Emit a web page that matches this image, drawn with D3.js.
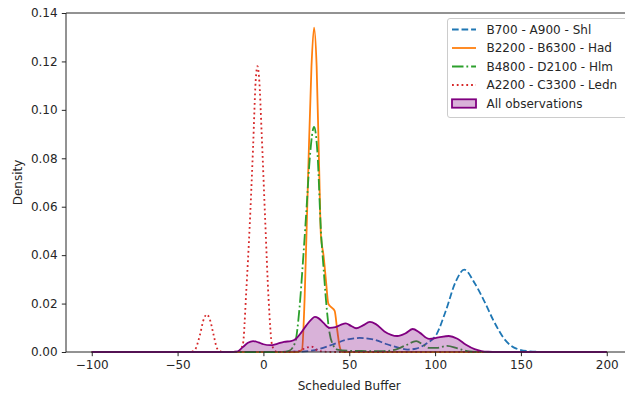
<!DOCTYPE html>
<html>
<head>
<meta charset="utf-8">
<script src="https://cdn.jsdelivr.net/npm/d3@7"></script>
<style>
  html, body { margin: 0; padding: 0; background: #fff; }
  svg { display: block; font-family: "DejaVu Sans", sans-serif; }
</style>
</head>
<body>
<svg id="chart" width="625" height="394"></svg>
<script>
// ---- data ----
const seriesNames = ["B700 - A900 - Shl", "B2200 - B6300 - Had", "B4800 - D2100 - Hlm", "A2200 - C3300 - Ledn", "All observations"];

const shlX = [-100, 20, 30, 40, 48, 56, 64, 72, 79, 84, 89, 95, 101, 106, 112, 117, 123, 129, 134, 141, 147, 155, 166, 200];
const shlY = [0, 0.0001, 0.0008, 0.0030, 0.0050, 0.0058, 0.0052, 0.0032, 0.0017, 0.0010, 0.0014, 0.0035, 0.0075, 0.0165, 0.0290, 0.0340, 0.0285, 0.0205, 0.0130, 0.0048, 0.0015, 0.0003, 0, 0];

const hadX = [-100, 20, 22.5, 24, 26, 28, 29.5, 31, 32.5, 33.5, 35, 36.5, 37.8, 39.5, 41.5, 43, 44.5, 46, 200];
const hadY = [0, 0, 0.001, 0.022, 0.072, 0.118, 0.134, 0.118, 0.075, 0.048, 0.040, 0.029, 0.020, 0.0185, 0.017, 0.009, 0.002, 0, 0];

const hlmX = [-100, 10, 15, 18.5, 21, 23, 25, 27, 29.5, 31.5, 33.5, 35, 36.5, 38.5, 40.5, 43, 50, 60, 70, 77, 83, 89, 93, 96.5, 101, 107, 113, 120, 131, 200];
const hlmY = [0, 0, 0.0005, 0.004, 0.018, 0.037, 0.058, 0.080, 0.093, 0.082, 0.050, 0.035, 0.021, 0.008, 0.003, 0.001, 0.0005, 0.0004, 0.0004, 0.001, 0.0028, 0.0045, 0.003, 0.0017, 0.0017, 0.0025, 0.0015, 0.0002, 0, 0];

const ledX = [-100, -45, -42, -40, -37, -35, -33, -31, -29, -27, -25, -20, -15, -12, -10, -8, -6, -4.5, -3.5, -2.5, -1, 1, 3, 5, 7, 12, 20, 25, 28, 32, 40, 200];
const ledY = [0, 0, 0.0001, 0.0008, 0.007, 0.013, 0.0155, 0.013, 0.007, 0.0015, 0.0002, 0, 0.0002, 0.003, 0.025, 0.052, 0.085, 0.112, 0.118, 0.113, 0.090, 0.055, 0.022, 0.003, 0.0003, 0, 0.0002, 0.0018, 0.0022, 0.0005, 0, 0];

const allX = [-100, -20, -15, -12, -9, -6, -3, 0, 4, 8, 12, 16, 19, 22, 25, 28, 30, 32, 35, 38.5, 42, 45, 48, 51, 54, 58, 62, 65.5, 70.5, 78, 83, 87, 91, 96.5, 102, 108, 113, 118, 123, 127, 131, 136, 141, 200];
const allY = [0, 0, 0.0003, 0.002, 0.0038, 0.0045, 0.0040, 0.0032, 0.0028, 0.0034, 0.0042, 0.0045, 0.0055, 0.0080, 0.0110, 0.0135, 0.0145, 0.0140, 0.0120, 0.0100, 0.0103, 0.0112, 0.0118, 0.0108, 0.0098, 0.0110, 0.0124, 0.0115, 0.0085, 0.0066, 0.0078, 0.0095, 0.0080, 0.0054, 0.0060, 0.0066, 0.0055, 0.0030, 0.0012, 0.0004, 0.0001, 0, 0, 0];

const xTicks = [-100, -50, 0, 50, 100, 150, 200];
const yTicks = [0, 0.02, 0.04, 0.06, 0.08, 0.10, 0.12, 0.14];

// ---- layout ----
const svg = d3.select("#chart");
const L = 66, R = 632.5, T = 13, B = 352;
const x = d3.scaleLinear().domain([-115, 215]).range([L, R]);
const y = d3.scaleLinear().domain([0, 0.14]).range([B, T]);
const lw = 1.8;
const fs = 12;
const txt = "#262626";

svg.append("rect").attr("width", 625).attr("height", 394).attr("fill", "#fff");

const zip = (xs, ys) => xs.map((v, i) => [v, ys[i]]);
const line = d3.line().x(d => x(d[0])).y(d => y(d[1])).curve(d3.curveMonotoneX);
const area = d3.area().x(d => x(d[0])).y0(y(0)).y1(d => y(d[1])).curve(d3.curveMonotoneX);

const styles = [
  { data: zip(shlX, shlY), color: "#1f77b4", dash: [6.66, 2.88] },
  { data: zip(hadX, hadY), color: "#ff7f0e", dash: null },
  { data: zip(hlmX, hlmY), color: "#2ca02c", dash: [11.5, 2.9, 1.8, 2.9] },
  { data: zip(ledX, ledY), color: "#d62728", dash: [1.8, 2.97] }
];

const plot = svg.append("g");
styles.forEach(s => {
  plot.append("path")
    .attr("d", line(s.data))
    .attr("fill", "none")
    .attr("stroke", s.color)
    .attr("stroke-width", lw)
    .attr("stroke-dasharray", s.dash ? s.dash.join(",") : null);
});
const allData = zip(allX, allY);
plot.append("path").attr("d", area(allData))
  .attr("fill", "#800080").attr("fill-opacity", 0.3).attr("stroke", "none");
plot.append("path").attr("d", line(allData))
  .attr("fill", "none").attr("stroke", "#800080").attr("stroke-width", lw);

// ---- axes ----
const xAxis = d3.axisBottom(x).tickValues(xTicks).tickSize(4.2).tickPadding(4.2).tickSizeOuter(0)
  .tickFormat(d3.format("d"));
const gx = svg.append("g").attr("transform", `translate(0,${B})`).call(xAxis);
const yAxis = d3.axisLeft(y).tickValues(yTicks).tickSize(4.2).tickPadding(4.2).tickSizeOuter(0)
  .tickFormat(d3.format(".2f"));
const gy = svg.append("g").attr("transform", `translate(${L},0)`).call(yAxis);
[gx, gy].forEach(g => {
  g.select(".domain").remove();
  g.selectAll(".tick line").attr("stroke", txt).attr("stroke-width", 1);
  g.selectAll(".tick text").attr("fill", txt).attr("font-size", fs).attr("font-family", "DejaVu Sans");
});

// spines
const sp = svg.append("g").attr("stroke", txt).attr("stroke-width", 1).attr("fill", "none");
sp.append("line").attr("x1", L).attr("x2", L).attr("y1", T).attr("y2", B);
sp.append("line").attr("x1", L).attr("x2", R).attr("y1", B).attr("y2", B);
sp.append("line").attr("x1", L).attr("x2", R).attr("y1", T).attr("y2", T);
sp.append("line").attr("x1", R).attr("x2", R).attr("y1", T).attr("y2", B);

// axis labels
svg.append("text").attr("x", (L + R) / 2).attr("y", 390).attr("text-anchor", "middle")
  .attr("font-size", fs).attr("fill", txt).text("Scheduled Buffer");
svg.append("text").attr("transform", `translate(22,${(T + B) / 2}) rotate(-90)`)
  .attr("text-anchor", "middle").attr("font-size", fs).attr("fill", txt).text("Density");

// ---- legend ----
const lg = svg.append("g");
lg.append("rect").attr("x", 447.5).attr("y", 18.5).attr("width", 180).attr("height", 99)
  .attr("rx", 2.5).attr("fill", "#fff").attr("fill-opacity", 0.8).attr("stroke", "#cccccc").attr("stroke-width", 1);
const rowY = [29.5, 48, 66.5, 85, 103.5];
styles.forEach((s, i) => {
  lg.append("line").attr("x1", 452).attr("x2", 476).attr("y1", rowY[i]).attr("y2", rowY[i])
    .attr("stroke", s.color).attr("stroke-width", lw)
    .attr("stroke-dasharray", s.dash ? s.dash.join(",") : null);
});
lg.append("rect").attr("x", 452).attr("y", rowY[4] - 4.2).attr("width", 24).attr("height", 8.4)
  .attr("fill", "#800080").attr("fill-opacity", 0.3).attr("stroke", "#800080").attr("stroke-width", lw);
seriesNames.forEach((n, i) => {
  lg.append("text").attr("x", 486.5).attr("y", rowY[i]).attr("dy", "0.36em")
    .attr("font-size", fs).attr("fill", txt).text(n);
});
</script>
</body>
</html>
